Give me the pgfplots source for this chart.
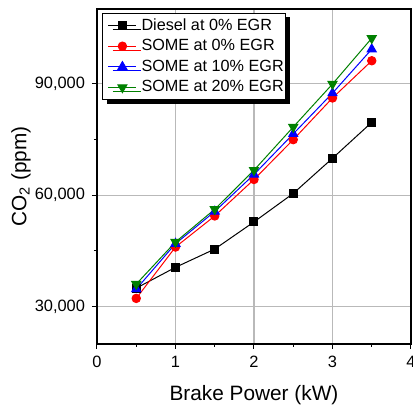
\documentclass[border=0pt]{standalone}
\usepackage{pgfplots}
\pgfplotsset{compat=1.18}
\usepackage{fontspec}
\setmainfont{Liberation Sans}
\usetikzlibrary{shadows}
\definecolor{dgreen}{RGB}{0,128,0}
\definecolor{gridgray}{RGB}{185,185,185}
\begin{document}
\begin{tikzpicture}
\begin{axis}[
  scale only axis,
  width=157pt, height=167.5pt,
  xmin=0, xmax=4, ymin=20000, ymax=110000,
  xtick={0,1,2,3,4},
  ytick={30000,60000,90000},
  minor x tick num=1,
  minor y tick num=1,
  tick align=outside,
  xtick pos=bottom, ytick pos=left,
  major tick length=2.5pt, minor tick length=1.5pt,
  grid=major,
  major grid style={gridgray, line width=0.6pt},
  axis line style={line width=0.6pt},
  every tick/.style={black, line width=0.5pt},
  scaled ticks=false,
  /pgf/number format/assume math mode=true,
  yticklabel style={/pgf/number format/.cd, fixed, 1000 sep={,}},
  tick label style={font=\fontsize{8.2}{9}\selectfont},
  xlabel={Brake Power (kW)},
  ylabel={CO\textsubscript{2} (ppm)},
  label style={font=\fontsize{10.4}{12}\selectfont},
  xlabel style={at={(axis description cs:0.5,0)}, anchor=center, yshift=-25.5pt},
  ylabel style={at={(axis description cs:-0.242,0.5)}, anchor=center},
  legend cell align=left,
  legend style={at={(axis description cs:0.015,0.989)}, anchor=north west,
    font=\fontsize{8.1}{9}\selectfont, draw=black, line width=0.6pt, fill=white,
    drop shadow={shadow xshift=2.2pt, shadow yshift=-2pt, fill=black, opacity=1},
    inner xsep=0.3pt, inner ysep=1pt, row sep=0pt, column sep=0pt,
    nodes={inner xsep=0.5pt, inner ysep=1.2pt, text height=6.2pt, text depth=1.7pt}},
  legend image code/.code={
    \path (0pt,0pt) (18.3pt,0pt);
    \draw[mark repeat=2,mark phase=2] plot coordinates {(2.5pt,0pt) (9.5pt,0pt) (16.5pt,0pt)};
  },
]
\addplot[black, line width=0.5pt, mark=square*, mark size=2pt] coordinates {
 (0.5,35000) (1,40600) (1.5,45500) (2,52800) (2.5,60450) (3,69900) (3.5,79550)};
\addlegendentry{Diesel at 0\% EGR}
\addplot[red, line width=0.5pt, mark=*, mark size=2.1pt] coordinates {
 (0.5,32250) (1,46050) (1.5,54400) (2,64200) (2.5,74900) (3,86100) (3.5,96100)};
\addlegendentry{SOME at 0\% EGR}
\addplot[blue, line width=0.5pt, mark=triangle*, mark size=2.6pt] coordinates {
 (0.5,34750) (1,46950) (1.5,55600) (2,65550) (2.5,76450) (3,87400) (3.5,99200)};
\addlegendentry{SOME at 10\% EGR}
\addplot[dgreen, line width=0.5pt, mark=triangle*, mark options={rotate=180}, mark size=2.6pt] coordinates {
 (0.5,36100) (1,47400) (1.5,56200) (2,66700) (2.5,78300) (3,89850) (3.5,102150)};
\addlegendentry{SOME at 20\% EGR}
\coordinate (sw) at (axis description cs:0,0);
\end{axis}
\pgfresetboundingbox
\useasboundingbox ([shift={(-48.5pt,-30.5pt)}]sw) rectangle ([shift={(158pt,172pt)}]sw);
\end{tikzpicture}
\end{document}
